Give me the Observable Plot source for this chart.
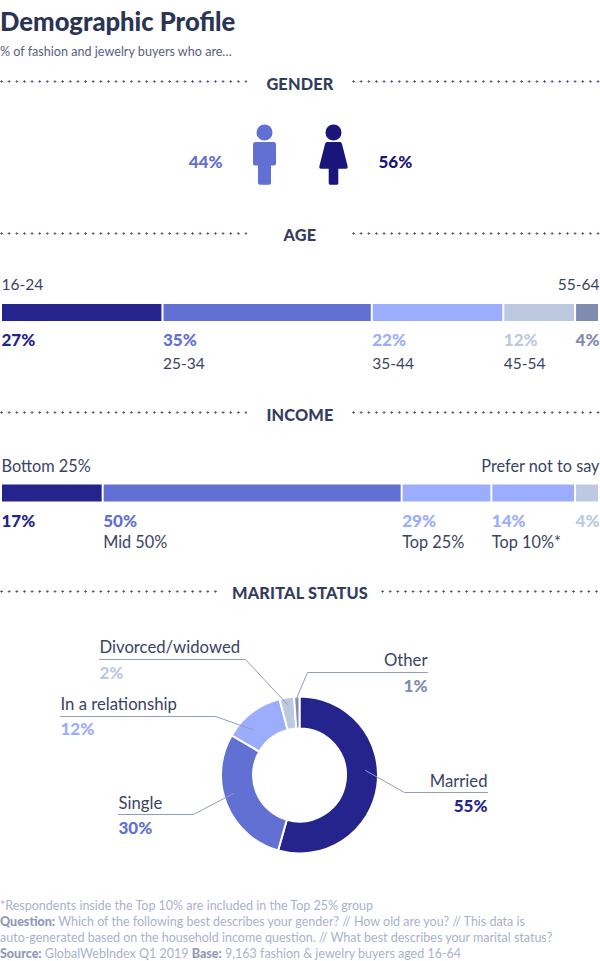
<!DOCTYPE html>
<html><head><meta charset="utf-8">
<script src="https://cdn.jsdelivr.net/npm/d3@7"></script>
<script src="https://cdn.jsdelivr.net/npm/@observablehq/plot@0.6"></script>
<style>
html,body{margin:0;padding:0;background:#fff}
#page{position:relative;width:600px;height:961px;overflow:hidden;font-family:Lato,sans-serif;color:#343d5e}
#page>*{position:absolute}
.title{left:0;top:6px;font-size:25.6px;font-weight:900;color:#2b3454;white-space:nowrap}
.sub{left:0;top:44px;font-size:12.6px;color:#59617f;white-space:nowrap}
.head{left:0;width:600px;text-align:center;font-size:16.3px;font-weight:900;color:#343d5e;letter-spacing:.2px;line-height:20px}
.dots{height:3px;background:radial-gradient(circle at 1.5px 1.5px,#4a5373 .95px,transparent 1.2px) repeat-x;background-size:7.65px 3px}
.foot{left:0;top:898px;font-size:12.5px;line-height:16px;color:#a9b2cd;white-space:nowrap}
.foot b{color:#8e99ba;font-weight:900}
</style></head><body>
<div id="page"></div>
<script>
// ---- data ----
const genders = ["Male", "Female"];
const genderPct = [44, 56];

const ageNames = ["16-24", "25-34", "35-44", "45-54", "55-64"];
const agePct = [27, 35, 22, 12, 4];

const incomeNames = ["Bottom 25%", "Mid 50%", "Top 25%", "Top 10%*", "Prefer not to say"];
const incomePct = [17, 50, 29, 14, 4];
// Top 25% contains Top 10%: its bar only shows the part outside Top 10%
const incomeBar = [17, 50, 15, 14, 4];

const maritalNames = ["Married", "Single", "In a relationship", "Divorced/widowed", "Other"];
const maritalPct = [55, 30, 12, 2, 1];
// slice sizes as drawn in the picture (they differ slightly from the rounded labels)
const maritalSlice = [54.4, 29, 12.5, 3, 1.1];

// ---- styles and layout ----
const NAVY = "#24248c", BLUE = "#626fd3", LIGHT = "#9badfc", PALE = "#bcc9e0", SLATE = "#7f8cb0";
const ageColors = [NAVY, BLUE, LIGHT, PALE, SLATE];
const incomeColors = [NAVY, BLUE, LIGHT, LIGHT, PALE];
const maritalColors = [NAVY, BLUE, LIGHT, PALE, SLATE];
const genderColors = [BLUE, "#1a1579"];
const INK = "#3a4364";
const FONT = "Lato, sans-serif";

const page = document.getElementById("page");
function add(html){const t=document.createElement("template");t.innerHTML=html;const n=t.content.firstChild;page.appendChild(n);return n;}
function place(svg,top){svg.style.cssText+=`;position:absolute;left:0;top:${top}px;background:transparent;max-width:none`;page.appendChild(svg);}

add(`<div class="title">Demographic Profile</div>`);
add(`<div class="sub">% of fashion and jewelry buyers who are…</div>`);
function header(label,cy,lineY,leftEnd,rightStart){
  add(`<div class="head" style="top:${cy-10}px">${label}</div>`);
  add(`<div class="dots" style="left:0;width:${leftEnd}px;top:${lineY-1.5}px"></div>`);
  add(`<div class="dots" style="left:${rightStart}px;width:${600-rightStart}px;top:${lineY-1.5}px"></div>`);
}
header("GENDER",84,81,247,352);
header("AGE",235,233,247,352);
header("INCOME",415,412,247,352);
header("MARITAL STATUS",593,591,219,381);

// ---- gender ----
const manSymbol = {draw(c,size){const u=Math.sqrt(size)/60;
  const P=(x,y)=>[x*u,y*u];
  c.moveTo(...P(8,-28)); c.arc(0,-28*u,8*u,0,2*Math.PI);
  c.moveTo(...P(-9,-18.5)); c.lineTo(...P(9,-18.5)); c.quadraticCurveTo(11.5*u,-18.5*u,11.5*u,-16*u);
  c.lineTo(...P(11.5,3)); c.quadraticCurveTo(11.5*u,5*u,9.5*u,5*u); c.lineTo(...P(6.5,5));
  c.lineTo(...P(6.5,22.5)); c.quadraticCurveTo(6.5*u,24.3*u,4.5*u,24.3*u); c.lineTo(...P(-4.5,24.3));
  c.quadraticCurveTo(-6.5*u,24.3*u,-6.5*u,22.5*u); c.lineTo(...P(-6.5,5)); c.lineTo(...P(-9.5,5));
  c.quadraticCurveTo(-11.5*u,5*u,-11.5*u,3*u); c.lineTo(...P(-11.5,-16)); c.quadraticCurveTo(-11.5*u,-18.5*u,-9*u,-18.5*u);
  c.closePath();}};
const womanSymbol = {draw(c,size){const u=Math.sqrt(size)/60;
  const P=(x,y)=>[x*u,y*u];
  c.moveTo(...P(8,-28)); c.arc(0,-28*u,8*u,0,2*Math.PI);
  c.moveTo(...P(-6.5,-18.5)); c.lineTo(...P(6.5,-18.5)); c.quadraticCurveTo(8*u,-18.5*u,8.5*u,-16.5*u);
  c.lineTo(...P(14.2,6)); c.quadraticCurveTo(14.6*u,8.3*u,12.5*u,8.3*u); c.lineTo(...P(4.8,8.3));
  c.lineTo(...P(4.8,22.8)); c.quadraticCurveTo(4.8*u,24.3*u,3.3*u,24.3*u); c.lineTo(...P(-3.3,24.3));
  c.quadraticCurveTo(-4.8*u,24.3*u,-4.8*u,22.8*u); c.lineTo(...P(-4.8,8.3)); c.lineTo(...P(-12.5,8.3));
  c.quadraticCurveTo(-14.6*u,8.3*u,-14.2*u,6*u); c.lineTo(...P(-8.5,-16.5)); c.quadraticCurveTo(-8*u,-18.5*u,-6.5*u,-18.5*u);
  c.closePath();}};
const genderRows = genders.map((name,i)=>({name,pct:genderPct[i]}));
place(Plot.plot({
  width:600,height:80,margin:0,
  x:{type:"point",domain:genders,range:[264,333],padding:0,axis:null},
  y:{domain:[0,1],range:[0,80],axis:null},
  color:{domain:genders,range:genderColors},
  marks:[
    Plot.dot([genderRows[0]],{x:"name",y:()=>0.5,r:60/Math.sqrt(Math.PI),symbol:()=>manSymbol,fill:"name",stroke:null}),
    Plot.dot([genderRows[1]],{x:"name",y:()=>0.5,r:60/Math.sqrt(Math.PI),symbol:()=>womanSymbol,fill:"name",stroke:null}),
    Plot.text([genderRows[0]],{x:"name",y:()=>0.5,dx:-42,dy:2,text:d=>d.pct+"%",textAnchor:"end",fill:"name",fontSize:17,fontWeight:900,fontFamily:FONT}),
    Plot.text([genderRows[1]],{x:"name",y:()=>0.5,dx:45,dy:2,text:d=>d.pct+"%",textAnchor:"start",fill:"name",fontSize:17,fontWeight:900,fontFamily:FONT})
  ]
}),120);

// ---- stacked bars ----
function stackedBar(names,pcts,bars,colors,rows,nameSize){
  const ends=d3.cumsum(bars);
  const data=names.map((name,i)=>({name,pct:pcts[i],start:ends[i]-bars[i],end:ends[i],last:i===names.length-1,above:i===0||i===names.length-1}));
  const labelX=d=>d.last?d.end:d.start;
  const H=110;
  const startOnes=data.filter(d=>!d.last), endOnes=data.filter(d=>d.last);
  const textMarks=(arr,ta,dx)=>[
    Plot.text(arr.filter(d=>d.above),{x:labelX,y:()=>rows.above,dx,text:"name",textAnchor:ta,fill:INK,fontSize:nameSize,fontFamily:FONT}),
    Plot.text(arr,{x:labelX,y:()=>rows.pct,dx,text:d=>d.pct+"%",textAnchor:ta,fill:"name",fontSize:17,fontWeight:900,fontFamily:FONT}),
    Plot.text(arr.filter(d=>!d.above),{x:labelX,y:()=>rows.below,dx,text:"name",textAnchor:ta,fill:INK,fontSize:nameSize,fontFamily:FONT})
  ];
  return Plot.plot({
    width:600,height:H,margin:0,
    x:{domain:[0,100],range:[2,600],axis:null},
    y:{domain:[0,H],range:[0,H],axis:null},
    color:{domain:names,range:colors},
    marks:[
      Plot.rectX(data,{x1:"start",x2:"end",y1:()=>rows.barTop,y2:()=>rows.barBottom,fill:"name",insetRight:2}),
      ...textMarks(startOnes,"start",-1),
      ...textMarks(endOnes,"end",-1)
    ]
  });
}
place(stackedBar(ageNames,agePct,agePct,ageColors,{above:18,barTop:37,barBottom:54,pct:73,below:97},15.5),267);
place(stackedBar(incomeNames,incomePct,incomeBar,incomeColors,{above:19,barTop:37.5,barBottom:54.5,pct:74,below:95},16.3),447);

// ---- donut ----
const CX=299.5, CY=775, R_OUT=78.5, R_IN=46.5;
const maritalRows=maritalNames.map((name,i)=>({name,pct:maritalPct[i],slice:maritalSlice[i]}));
// annotation layout, in page pixels: text anchor, label rows, leader line
const maritalLabels=[
  {name:"Married",x:487,anchor:"end",yName:781,yPct:806,leader:[[487,792],[404,792],[365,770]]},
  {name:"Single",x:118,anchor:"start",yName:803,yPct:828,leader:[[118,814],[193,814],[233,793]]},
  {name:"In a relationship",x:60,anchor:"start",yName:704.5,yPct:729,leader:[[60,716],[215,716],[252,729]]},
  {name:"Divorced/widowed",x:99,anchor:"start",yName:647,yPct:673,leader:[[99,659],[245,659],[287,704]]},
  {name:"Other",x:427,anchor:"end",yName:660.5,yPct:686,leader:[[427,672],[307,672],[296,698]]}
];
const labelRows=maritalLabels.map(l=>({...l,pct:maritalRows.find(r=>r.name===l.name).pct}));
const leaderPts=maritalLabels.flatMap(l=>l.leader.map(([x,y])=>({name:l.name,x,y})));
const donutMark=(index,{x,y},values,dims)=>{
  const g=d3.create("svg:g").attr("aria-label","donut").attr("transform",`translate(${x(CX)},${y(CY)})`);
  const pie=d3.pie().sort(null).value(d=>d.slice)(maritalRows);
  const arc=d3.arc().innerRadius(R_IN).outerRadius(R_OUT);
  g.selectAll("path").data(pie).join("path").attr("d",arc)
    .attr("fill",(d,i)=>maritalColors[i]).attr("stroke","#fff").attr("stroke-width",2);
  return g.node();
};
place(Plot.plot({
  width:600,height:240,margin:0,
  x:{domain:[0,600],range:[0,600],axis:null},
  y:{domain:[630,870],range:[0,240],axis:null},
  color:{domain:maritalNames,range:maritalColors},
  marks:[
    donutMark,
    Plot.line(leaderPts,{x:"x",y:"y",z:"name",stroke:"#8f9cbc",strokeWidth:1,curve:"linear"}),
    ...["start","end"].flatMap(ta=>{const a=labelRows.filter(l=>l.anchor===ta);return [
      Plot.text(a,{x:"x",y:"yName",text:"name",textAnchor:ta,fill:INK,fontSize:16.7,fontFamily:FONT}),
      Plot.text(a,{x:"x",y:"yPct",text:d=>d.pct+"%",textAnchor:ta,fill:"name",fontSize:17,fontWeight:900,fontFamily:FONT})
    ];})
  ]
}),630);

// ---- footer ----
add(`<div class="foot">*Respondents inside the Top 10% are included in the Top 25% group<br><b>Question:</b> Which of the following best describes your gender? // How old are you? // This data is<br>auto-generated based on the household income question. // What best describes your marital status?<br><b>Source:</b> GlobalWebIndex Q1 2019 <b>Base:</b> 9,163 fashion &amp; jewelry buyers aged 16-64</div>`);
</script>
</body></html>
